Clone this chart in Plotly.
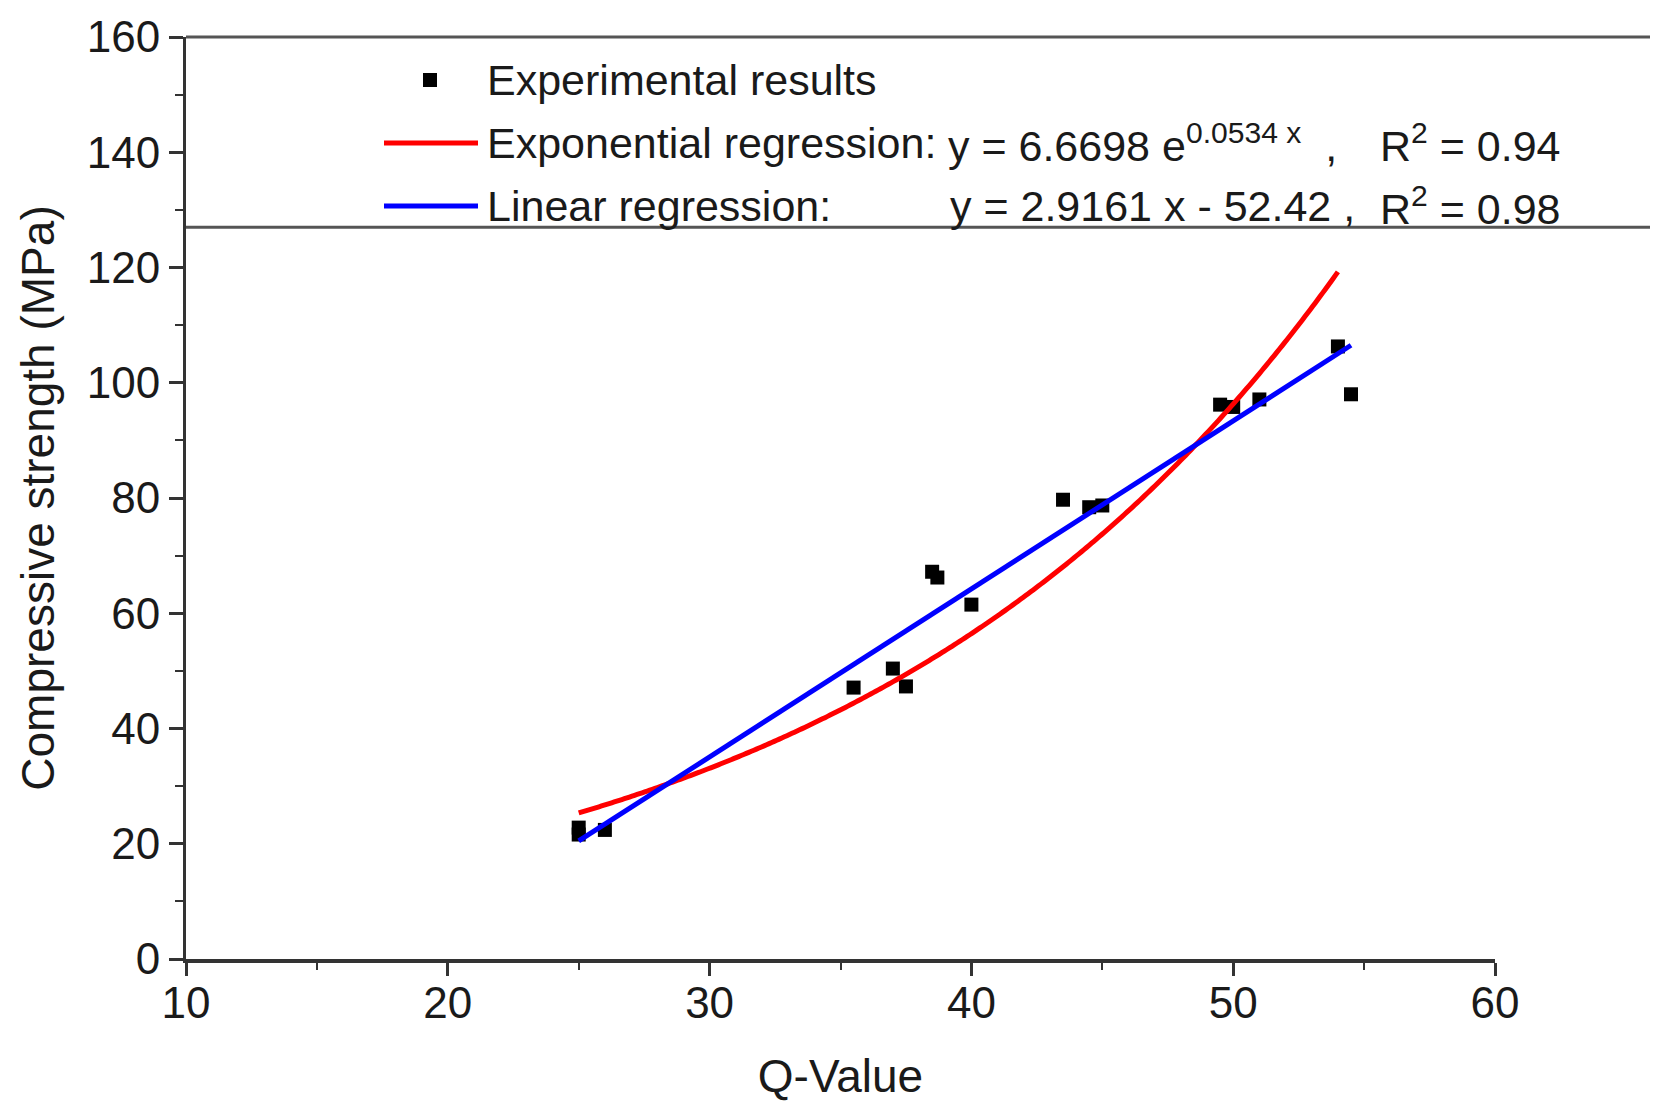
import plotly.graph_objects as go
import numpy as np

# ---------------- data ----------------
q_values = [25.0, 25.0, 26.0, 35.5, 37.0, 37.5, 38.5, 38.7, 40.0,
            43.5, 44.5, 45.0, 49.5, 50.0, 51.0, 54.0, 54.5]
strength = [22.8, 21.6, 22.4, 47.1, 50.4, 47.3, 67.2, 66.2, 61.5,
            79.7, 78.4, 78.7, 96.2, 95.8, 97.1, 106.3, 98.0]

# regression coefficients as printed in the legend
exp_a, exp_b = 6.6698, 0.0534
lin_slope, lin_icpt = 2.9161, -52.42
exp_range = [25.0, 54.0]
lin_range = [25.0, 54.5]

x_ticks = [10, 20, 30, 40, 50, 60]
y_ticks = [0, 20, 40, 60, 80, 100, 120, 140, 160]
legend_box_bottom = 127  # y value of the legend frame's lower edge

legend_labels = ["Experimental results", "Exponential regression:", "Linear regression:"]
exp_eq = "y = 6.6698 e<sup>0.0534 x</sup>&nbsp;&nbsp;,"
lin_eq = "y = 2.9161 x - 52.42 ,"
exp_r2 = "R<sup>2</sup> = 0.94"
lin_r2 = "R<sup>2</sup> = 0.98"

# ---------------- figure geometry ----------------
PAGE_W, PAGE_H = 1658, 1110
OFF = 8                      # default body margin of the html page
W, H = PAGE_W - 2 * OFF, PAGE_H - 2 * OFF
# plot area in page pixels
PL, PR, PT, PB = 186, 1495, 37, 959
L, R, T, B = PL - OFF, PR - OFF, PT - OFF, PB - OFF
FONT = "Liberation Sans, Arial, Helvetica, sans-serif"
INK = "#1a1a1a"

def px(X):  # page pixel -> paper x
    return (X - PL) / (PR - PL)

def py(Y):  # page pixel -> paper y
    return (PB - Y) / (PB - PT)

xe = np.linspace(exp_range[0], exp_range[1], 300)
ye = exp_a * np.exp(exp_b * xe)
xl = np.array(lin_range)
yl = lin_slope * xl + lin_icpt

fig = go.Figure()
fig.add_trace(go.Scatter(x=q_values, y=strength, mode="markers",
                         marker=dict(symbol="square", size=14, color="black"),
                         name="Experimental results", showlegend=False))
fig.add_trace(go.Scatter(x=xe, y=ye, mode="lines",
                         line=dict(color="#ff0000", width=5, simplify=False),
                         name="Exponential regression", showlegend=False))
fig.add_trace(go.Scatter(x=xl, y=yl, mode="lines",
                         line=dict(color="#0000ff", width=5),
                         name="Linear regression", showlegend=False))

shapes = []
frame_right = px(PAGE_W)
# top frame line and legend box bottom line (extend to the image edge)
shapes.append(dict(type="line", xref="paper", yref="paper", x0=0, x1=frame_right,
                   y0=1, y1=1, line=dict(color="#555555", width=3)))
shapes.append(dict(type="line", xref="paper", yref="paper", x0=0, x1=frame_right,
                   y0=legend_box_bottom / y_ticks[-1], y1=legend_box_bottom / y_ticks[-1],
                   line=dict(color="#555555", width=3)))
# legend symbols
shapes.append(dict(type="rect", xref="paper", yref="paper",
                   x0=px(423), x1=px(437), y0=py(87), y1=py(73),
                   fillcolor="black", line=dict(width=0)))
shapes.append(dict(type="line", xref="paper", yref="paper", x0=px(384), x1=px(478),
                   y0=py(143), y1=py(143), line=dict(color="#ff0000", width=5)))
shapes.append(dict(type="line", xref="paper", yref="paper", x0=px(384), x1=px(478),
                   y0=py(206), y1=py(206), line=dict(color="#0000ff", width=5)))

annotations = []
def txt(t, X, Y):
    annotations.append(dict(text=t, xref="paper", yref="paper", x=px(X), y=py(Y),
                            xanchor="left", yanchor="middle", showarrow=False,
                            font=dict(family=FONT, size=43, color=INK)))

txt(legend_labels[0], 485, 80)
txt(legend_labels[1], 485, 143)
txt(legend_labels[2], 485, 206)
txt(exp_eq, 946, 143)
txt(lin_eq, 948, 206)
txt(exp_r2, 1378, 143)
txt(lin_r2, 1378, 206)

fig.update_layout(
    width=W, height=H,
    margin=dict(l=L, r=W - R, t=T, b=H - B, pad=0, autoexpand=False),
    paper_bgcolor="white", plot_bgcolor="white",
    font=dict(family=FONT, color=INK),
    shapes=shapes, annotations=annotations,
    showlegend=False,
)
fig.update_xaxes(
    automargin=False,
    range=[x_ticks[0], x_ticks[-1]], tickvals=x_ticks,
    showgrid=False, zeroline=False, showline=True, linecolor="#333333", linewidth=4,
    ticks="outside", ticklen=13, tickwidth=2.5, tickcolor="#333333",
    minor=dict(ticks="outside", ticklen=7, dtick=5, tickwidth=2, tickcolor="#333333"),
    tickfont=dict(family=FONT, size=44, color=INK), ticklabelstandoff=-11,
    title=dict(text="Q-Value", font=dict(family=FONT, size=46, color=INK), standoff=41),
)
fig.update_yaxes(
    automargin=False,
    range=[y_ticks[0], y_ticks[-1]], tickvals=y_ticks,
    showgrid=False, zeroline=False, showline=True, linecolor="#333333", linewidth=3,
    ticks="outside", ticklen=14, tickwidth=2.5, tickcolor="#333333",
    minor=dict(ticks="outside", ticklen=8, dtick=10, tickwidth=2, tickcolor="#333333"),
    tickfont=dict(family=FONT, size=44, color=INK),
    title=dict(text="Compressive strength (MPa)", font=dict(family=FONT, size=46, color=INK), standoff=18),
)

fig.write_html("out.html")
